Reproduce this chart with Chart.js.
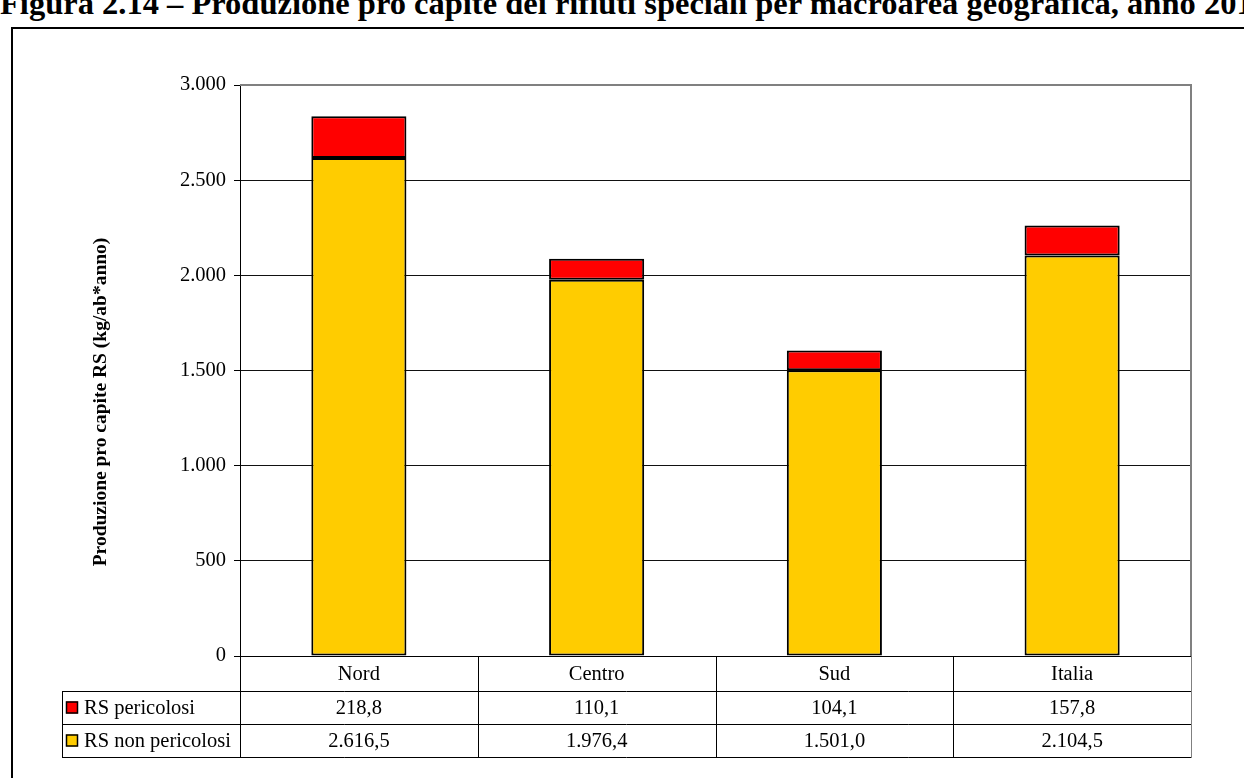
<!DOCTYPE html>
<html>
<head>
<meta charset="utf-8">
<script src="https://cdn.jsdelivr.net/npm/chart.js@4/dist/chart.umd.min.js"></script>
<style>
  html, body { margin: 0; padding: 0; background: #fff; overflow: hidden; width: 1244px; height: 778px; }
  #title { position: absolute; left: 0; top: -15px; line-height: 32px; white-space: nowrap; font: bold 32.5px 'Liberation Serif', 'Times New Roman', serif; color: #000; }
  #frame { position: absolute; left: 11px; top: 27px; width: 1300px; height: 800px; border: 2px solid #000; }
  #chart { position: absolute; left: 0; top: 0; }
</style>
</head>
<body>
<div id="title">Figura 2.14 – Produzione pro capite dei rifiuti speciali per macroarea geografica, anno 2010</div>
<div id="frame"></div>
<canvas id="chart" width="1244" height="778"></canvas>
<script>
const categories = ['Nord', 'Centro', 'Sud', 'Italia'];
const pericolosi = [218.8, 110.1, 104.1, 157.8];
const nonPericolosi = [2616.5, 1976.4, 1501.0, 2104.5];
const yTicks = [0, 500, 1000, 1500, 2000, 2500, 3000];

const SERIF = "'Liberation Serif', 'Times New Roman', serif";
const RED = '#ff0000';
const YELLOW = '#ffcc00';
const TEXT_SIZE = 20.5;

// 2616.5 -> "2.616,5", 3000 -> "3.000"
function fmt(v, decimals) {
  const parts = v.toFixed(decimals).split('.');
  const int = parts[0].replace(/\B(?=(\d{3})+(?!\d))/g, '.');
  return parts.length > 1 ? int + ',' + parts[1] : int;
}

// data table under the plot + rotated axis title
const tablePlugin = {
  id: 'dataTable',
  afterDraw(chart) {
    const { ctx, chartArea: a } = chart;
    const n = categories.length;
    const colW = (a.right - a.left) / n;
    const y0 = a.bottom, y1 = y0 + 35, y2 = y1 + 33, y3 = y2 + 33;
    const legendLeft = 62;

    ctx.save();
    // plot area frame, top and right
    ctx.strokeStyle = '#808080';
    ctx.lineWidth = 2;
    ctx.beginPath();
    ctx.moveTo(a.left, a.top);
    ctx.lineTo(a.right, a.top);
    ctx.lineTo(a.right, a.bottom);
    ctx.stroke();

    ctx.strokeStyle = '#000';
    ctx.lineWidth = 1;
    const h = (x1, x2, y) => { ctx.beginPath(); ctx.moveTo(x1, Math.round(y) + 0.5); ctx.lineTo(x2, Math.round(y) + 0.5); ctx.stroke(); };
    const v = (x, ya, yb) => { ctx.beginPath(); ctx.moveTo(Math.round(x) + 0.5, ya); ctx.lineTo(Math.round(x) + 0.5, yb); ctx.stroke(); };
    h(a.left, a.right, y0);
    h(legendLeft, a.right, y1);
    h(legendLeft, a.right, y2);
    h(legendLeft, a.right, y3);
    v(legendLeft, y1, y3 + 1);
    for (let i = 0; i < n; i++) v(a.left + i * colW, y0, y3 + 1);
    ctx.strokeStyle = '#808080';
    v(a.right, y0, y3 + 1);

    ctx.fillStyle = '#000';
    ctx.font = TEXT_SIZE + 'px ' + SERIF;
    ctx.textAlign = 'center';
    ctx.textBaseline = 'middle';
    for (let i = 0; i < n; i++) {
      const cx = chart.scales.x.getPixelForValue(i);
      ctx.fillText(categories[i], cx, (y0 + y1) / 2 + 1);
      ctx.fillText(fmt(pericolosi[i], 1), cx, (y1 + y2) / 2 + 1);
      ctx.fillText(fmt(nonPericolosi[i], 1), cx, (y2 + y3) / 2 + 1);
    }

    // legend keys inside the table
    const rows = [['RS pericolosi', RED, (y1 + y2) / 2], ['RS non pericolosi', YELLOW, (y2 + y3) / 2]];
    rows.forEach(([label, color, cy]) => {
      ctx.fillStyle = color;
      ctx.fillRect(66, cy - 6, 12, 12);
      ctx.strokeStyle = '#000';
      ctx.lineWidth = 1.5;
      ctx.strokeRect(66.5, cy - 5.5, 11, 11);
      ctx.fillStyle = '#000';
      ctx.textAlign = 'left';
      ctx.fillText(label, 84, cy + 1);
    });

    // y axis title
    ctx.translate(101, 402);
    ctx.rotate(-Math.PI / 2);
    ctx.font = 'bold 19.5px ' + SERIF;
    ctx.textAlign = 'center';
    ctx.fillText('Produzione pro capite RS (kg/ab*anno)', 0, 0);
    ctx.restore();
  }
};

new Chart(document.getElementById('chart'), {
  type: 'bar',
  data: {
    labels: categories,
    datasets: [
      {
        label: 'RS non pericolosi',
        data: nonPericolosi,
        backgroundColor: YELLOW,
        borderColor: '#000',
        borderWidth: 2,
        borderSkipped: false
      },
      {
        label: 'RS pericolosi',
        data: pericolosi,
        backgroundColor: RED,
        borderColor: '#000',
        borderWidth: 2,
        borderSkipped: false
      }
    ]
  },
  options: {
    responsive: false,
    animation: false,
    devicePixelRatio: 1,
    layout: { padding: { left: 0, right: 53, top: 85, bottom: 122 } },
    datasets: { bar: { categoryPercentage: 1, barPercentage: 0.4 } },
    plugins: { legend: { display: false }, tooltip: { enabled: false } },
    scales: {
      x: {
        stacked: true,
        display: false
      },
      y: {
        stacked: true,
        min: 0,
        max: 3000,
        afterBuildTicks: (s) => { s.ticks = yTicks.map(v => ({ value: v })); },
        afterFit: (s) => { s.width = 240; },
        border: { color: '#000', width: 1 },
        grid: {
          color: (c) => c.tick && c.tick.value === 3000 ? '#808080' : '#111',
          tickColor: '#000',
          tickLength: 6
        },
        ticks: {
          padding: 8,
          color: '#000',
          font: { family: SERIF, size: TEXT_SIZE },
          callback: (v) => fmt(v, 0)
        }
      }
    }
  },
  plugins: [tablePlugin]
});
</script>
</body>
</html>
